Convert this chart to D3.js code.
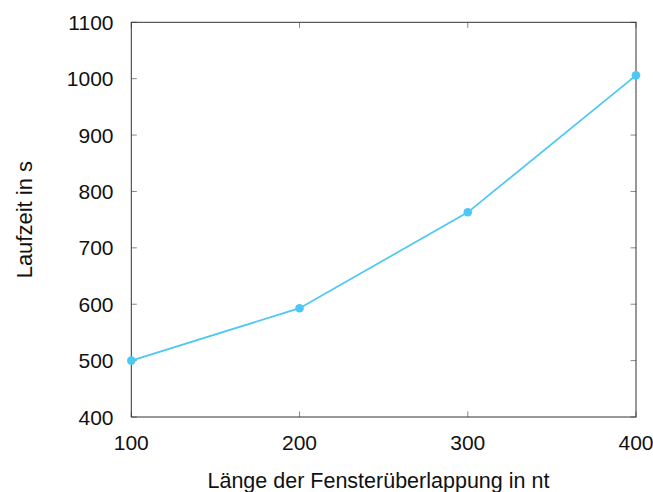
<!DOCTYPE html>
<html><head><meta charset="utf-8">
<script src="https://cdn.jsdelivr.net/npm/d3@7"></script>
<style>body{margin:0;background:#fff}</style>
</head><body>
<svg id="c" width="653" height="492"></svg>
<script>
const xValues = [100, 200, 300, 400];
const yValues = [500, 593, 763, 1006];
const xTicks = [100, 200, 300, 400];
const yTicks = [400, 500, 600, 700, 800, 900, 1000, 1100];
const xTitle = "Länge der Fensterüberlappung in nt";
const yTitle = "Laufzeit in s";

const svg = d3.select("#c");
const L = 131.3, R = 636, T = 22.3, B = 417;
const x = d3.scaleLinear().domain([100, 400]).range([L, R]);
const y = d3.scaleLinear().domain([400, 1100]).range([B, T]);
const font = "Liberation Sans, Arial, sans-serif";
const tickLen = 5.5, tickColor = "#888";

// inward ticks on all four sides
const gAx = svg.append("g").attr("stroke", tickColor).attr("stroke-width", 1);
yTicks.forEach(v => {
  gAx.append("line").attr("x1", L).attr("x2", L + tickLen).attr("y1", y(v)).attr("y2", y(v));
  gAx.append("line").attr("x1", R).attr("x2", R - tickLen).attr("y1", y(v)).attr("y2", y(v));
});
xTicks.forEach(v => {
  gAx.append("line").attr("x1", x(v)).attr("x2", x(v)).attr("y1", B).attr("y2", B - tickLen);
  gAx.append("line").attr("x1", x(v)).attr("x2", x(v)).attr("y1", T).attr("y2", T + tickLen);
});

svg.append("rect").attr("x", L).attr("y", T).attr("width", R - L).attr("height", B - T)
  .attr("fill", "none").attr("stroke", "#333").attr("stroke-width", 1);

// tick labels
svg.append("g").selectAll("text").data(yTicks).join("text")
  .attr("x", 113.5).attr("y", d => y(d)).attr("dy", "0.36em")
  .attr("text-anchor", "end").attr("font-family", font).attr("font-size", 21).attr("fill", "#111")
  .text(d => d);
svg.append("g").selectAll("text").data(xTicks).join("text")
  .attr("x", d => x(d)).attr("y", 450)
  .attr("text-anchor", "middle").attr("font-family", font).attr("font-size", 21).attr("fill", "#111")
  .text(d => d);

// titles
svg.append("text").attr("x", 207.5).attr("y", 488).attr("text-anchor", "start")
  .attr("font-family", font).attr("font-size", 21.5).attr("fill", "#111").text(xTitle);
svg.append("text").attr("transform", `translate(32,${(T + B) / 2}) rotate(-90)`)
  .attr("text-anchor", "middle").attr("font-family", font).attr("font-size", 22).attr("fill", "#111").text(yTitle);

// series
const data = xValues.map((v, i) => [v, yValues[i]]);
const col = "#4cc8f4";
svg.append("path").datum(data).attr("fill", "none").attr("stroke", col).attr("stroke-width", 1.7)
  .attr("d", d3.line().x(d => x(d[0])).y(d => y(d[1])));
svg.append("g").selectAll("circle").data(data).join("circle")
  .attr("cx", d => x(d[0])).attr("cy", d => y(d[1])).attr("r", 4.3).attr("fill", col);
</script>
</body></html>
